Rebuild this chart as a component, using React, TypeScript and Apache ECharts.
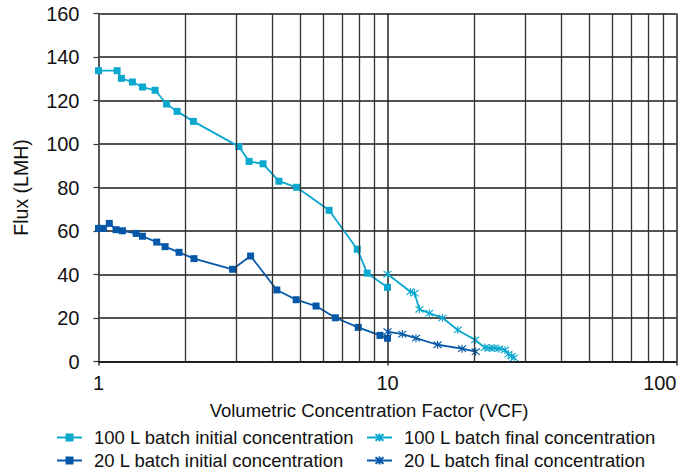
import React, { useEffect, useRef } from "react";
import * as echarts from "echarts";

// ---- Data ----
const vcf100Initial = [1.0, 1.16, 1.2, 1.31, 1.42, 1.57, 1.72, 1.87, 2.13, 3.06, 3.32, 3.71, 4.21, 4.85, 6.28, 7.86, 8.51, 10.0];
const flux100Initial = [133.7, 133.7, 130.2, 128.5, 126.2, 124.7, 118.4, 115.0, 110.4, 98.8, 92.0, 90.9, 82.9, 80.1, 69.5, 51.6, 40.6, 34.1];

const vcf100Final = [10.0, 12.0, 12.4, 12.9, 13.95, 15.5, 17.5, 20.1, 21.7, 22.5, 23.4, 24.3, 25.5, 26.2, 26.9, 27.4];
const flux100Final = [40.2, 32.1, 31.4, 24.0, 22.2, 20.1, 14.5, 9.9, 6.4, 6.2, 6.2, 5.9, 5.3, 3.4, 2.5, 1.7];

const vcf20Initial = [1.0, 1.04, 1.09, 1.15, 1.21, 1.35, 1.42, 1.59, 1.7, 1.9, 2.14, 2.91, 3.36, 4.14, 4.83, 5.66, 6.6, 7.92, 9.42, 10.0];
const flux20Initial = [61.2, 61.2, 63.5, 60.6, 60.1, 58.9, 57.6, 54.9, 52.8, 50.2, 47.3, 42.4, 48.5, 32.9, 28.4, 25.5, 20.1, 15.7, 12.0, 10.7];

const vcf20Final = [10.0, 11.25, 12.55, 14.9, 18.1, 20.2];
const flux20Final = [13.7, 12.6, 10.7, 7.7, 5.9, 4.5];

const minorGridX = [2, 3, 4, 5, 6, 7, 8, 9, 20, 30, 40, 50, 60, 70, 80, 90];

const seriesNames = [
  "100 L batch initial concentration",
  "100 L batch final concentration",
  "20 L batch initial concentration",
  "20 L batch final concentration",
];

const LIGHT = "#0aa7cf";
const DARK = "#0558a8";
const INK = "#111111";
const FONT = "'Liberation Sans', Arial, Helvetica, sans-serif";
const STAR = "path://M1,1L9,9M9,1L1,9M5,0L5,10";

const pairs = (xs: number[], ys: number[]) => xs.map((x, i) => [x, ys[i]]);

// legend slot positions (one legend per entry, two rows x two columns)
const legendSlots = [
  { left: 56, top: 428 },
  { left: 366, top: 428 },
  { left: 56, top: 451 },
  { left: 366, top: 451 },
];

export default function App() {
  const ref = useRef<HTMLDivElement>(null);

  useEffect(() => {
    if (!ref.current) return;
    const chart = echarts.init(ref.current, undefined, { renderer: "svg" });

    const legendText = {
      fontSize: 18.5,
      lineHeight: 18,
      color: INK,
      fontFamily: FONT,
      padding: [0, 0, 0, 7],
    };

    const option: any = {
      animation: false,
      backgroundColor: "#ffffff",
      textStyle: { fontFamily: FONT },
      grid: { left: 98.5, top: 13.5, right: 4.5, bottom: 108.5, containLabel: false },
      xAxis: {
        type: "log",
        logBase: 10,
        min: 1,
        max: 100,
        axisLine: { show: true, lineStyle: { color: INK, width: 1.5 } },
        axisTick: { show: true, length: 4, lineStyle: { color: "#333", width: 1.5 } },
        minorTick: { show: false },
        axisLabel: {
          fontSize: 20,
          color: INK,
          fontFamily: FONT,
          margin: 11,
          alignMaxLabel: "right",
          formatter: (v: number) => String(Math.round(v)),
        },
        splitLine: { show: true, lineStyle: { color: "#222", width: 1.5 } },
      },
      yAxis: {
        type: "value",
        min: 0,
        max: 160,
        interval: 20,
        name: "Flux (LMH)",
        nameLocation: "middle",
        nameGap: 68,
        nameTextStyle: { fontSize: 19.5, color: INK, fontFamily: FONT },
        axisLine: { show: true, lineStyle: { color: "#555", width: 1.5 } },
        axisTick: { show: true, length: 5, lineStyle: { color: "#333", width: 1.2 } },
        axisLabel: { fontSize: 20, color: INK, fontFamily: FONT, margin: 19 },
        splitLine: { show: true, lineStyle: { color: "#1a1a1a", width: 1.5 } },
      },
      legend: seriesNames.map((name, i) => ({
        data: [name],
        orient: "horizontal",
        left: legendSlots[i].left,
        top: legendSlots[i].top,
        padding: 0,
        itemWidth: 25,
        itemHeight: 10,
        textStyle: legendText,
      })),
      graphic: [
        {
          type: "text",
          x: 369,
          y: 410,
          style: {
            text: "Volumetric Concentration Factor (VCF)",
            textAlign: "center",
            textVerticalAlign: "middle",
            fontSize: 18.5,
            fill: INK,
            fontFamily: FONT,
          },
        },
      ],
      series: [
        {
          name: "minor-grid",
          type: "line",
          data: [],
          silent: true,
          z: 1,
          markLine: {
            silent: true,
            symbol: ["none", "none"],
            label: { show: false },
            lineStyle: { type: "solid", color: "#333", width: 1.3 },
            data: minorGridX.map((v) => ({ xAxis: v })),
          },
        },
        {
          name: seriesNames[0],
          type: "line",
          data: pairs(vcf100Initial, flux100Initial),
          symbol: "rect",
          symbolSize: 7,
          itemStyle: { color: LIGHT },
          lineStyle: { color: LIGHT, width: 1.8 },
          z: 3,
        },
        {
          name: seriesNames[1],
          type: "line",
          data: pairs(vcf100Final, flux100Final),
          symbol: STAR,
          symbolSize: 8,
          itemStyle: { color: LIGHT, borderColor: LIGHT, borderWidth: 1.1 },
          lineStyle: { color: LIGHT, width: 1.8 },
          z: 3,
        },
        {
          name: seriesNames[2],
          type: "line",
          data: pairs(vcf20Initial, flux20Initial),
          symbol: "rect",
          symbolSize: 7,
          itemStyle: { color: DARK },
          lineStyle: { color: DARK, width: 1.8 },
          z: 3,
        },
        {
          name: seriesNames[3],
          type: "line",
          data: pairs(vcf20Final, flux20Final),
          symbol: STAR,
          symbolSize: 8,
          itemStyle: { color: DARK, borderColor: DARK, borderWidth: 1.1 },
          lineStyle: { color: DARK, width: 1.8 },
          z: 3,
        },
      ],
    };

    chart.setOption(option);
    return () => chart.dispose();
  }, []);

  return (
    <div
      ref={ref}
      style={{ position: "absolute", left: 0, top: 0, width: 681, height: 470, background: "#fff" }}
    />
  );
}
